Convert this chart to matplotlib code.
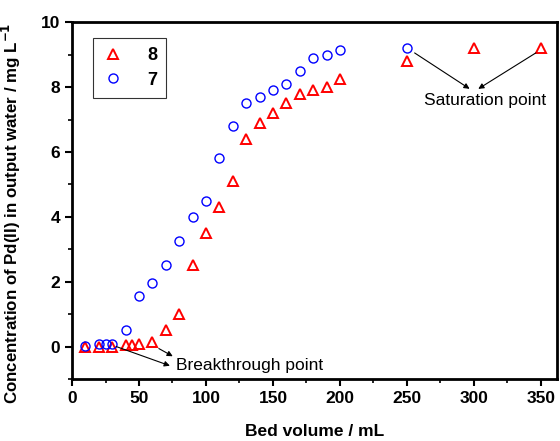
import numpy as np
import matplotlib.pyplot as plt
from matplotlib.ticker import MultipleLocator

plt.rcParams['font.family'] = ['Liberation Sans', 'DejaVu Sans']

# sample 8 (triangles)
x8 = [10, 20, 30, 40, 45, 50, 60, 70, 80, 90, 100, 110, 120, 130, 140, 150,
      160, 170, 180, 190, 200, 250, 300, 350]
y8 = [0.0, 0.0, 0.0, 0.05, 0.05, 0.08, 0.13, 0.5, 1.0, 2.5, 3.5, 4.3, 5.1, 6.4,
      6.9, 7.2, 7.5, 7.8, 7.9, 8.0, 8.25, 8.8, 9.2, 9.2]

# sample 7 (circles)
x7 = [10, 20, 25, 30, 40, 50, 60, 70, 80, 90, 100, 110, 120, 130, 140, 150,
      160, 170, 180, 190, 200, 250]
y7 = [0.03, 0.08, 0.08, 0.08, 0.5, 1.55, 1.97, 2.5, 3.25, 4.0, 4.5, 5.8, 6.8,
      7.5, 7.7, 7.9, 8.1, 8.5, 8.9, 9.0, 9.15, 9.2]

fig = plt.figure(figsize=(5.6, 4.41), dpi=100)
ax = fig.add_axes([0.1286, 0.1406, 0.866, 0.809])

ax.plot(x8, y8, '^', ms=7.5, mfc='none', mec='red', mew=1.4, ls='none', label='8')
ax.plot(x7, y7, 'o', ms=6.5, mfc='none', mec='blue', mew=1.0, ls='none', label='7')

ax.set_xlim(0, 362)
ax.set_ylim(-1, 10)
ax.xaxis.set_major_locator(MultipleLocator(50))
ax.xaxis.set_minor_locator(MultipleLocator(25))
ax.yaxis.set_major_locator(MultipleLocator(2))
ax.yaxis.set_minor_locator(MultipleLocator(1))
ax.tick_params(which='major', direction='out', length=5, width=1.5, labelsize=12.5)
ax.tick_params(which='minor', direction='out', length=3, width=1.2)
ax.tick_params(top=False, right=False)
for lab in ax.get_xticklabels() + ax.get_yticklabels():
    lab.set_fontweight('bold')
for sp in ax.spines.values():
    sp.set_linewidth(2)

ax.set_xlabel('Bed volume / mL', fontsize=12.5, fontweight='bold', labelpad=13)
ax.set_ylabel('Concentration of Pd(II) in output water / mg L$^{\\mathbf{-1}}$',
              fontsize=12.2, fontweight='bold')
ax.yaxis.set_label_coords(-0.102, 0.465)

arw = dict(arrowstyle='-|>', color='black', lw=0.8, mutation_scale=8)
ax.annotate('', xy=(75, -0.62), xytext=(31, 0.03), arrowprops=arw)
ax.annotate('', xy=(77, -0.34), xytext=(63, -0.02), arrowprops=arw)
ax.text(77.5, -0.58, 'Breakthrough point', fontsize=12.5, va='center', ha='left')

ax.annotate('', xy=(298.5, 7.9), xytext=(254, 9.1), arrowprops=arw)
ax.annotate('', xy=(301.5, 7.9), xytext=(348, 9.1), arrowprops=arw)
ax.text(354, 7.6, 'Saturation point', fontsize=12.5, va='center', ha='right')

leg = ax.legend(loc='upper left', bbox_to_anchor=(0.025, 0.98),
                prop={'weight': 'bold', 'size': 13}, markerfirst=True,
                handletextpad=1.3, borderpad=0.5, labelspacing=0.4,
                fancybox=False, edgecolor='black', handlelength=1.2)
leg.get_frame().set_linewidth(0.8)

fig.savefig('out.png', dpi=100)
